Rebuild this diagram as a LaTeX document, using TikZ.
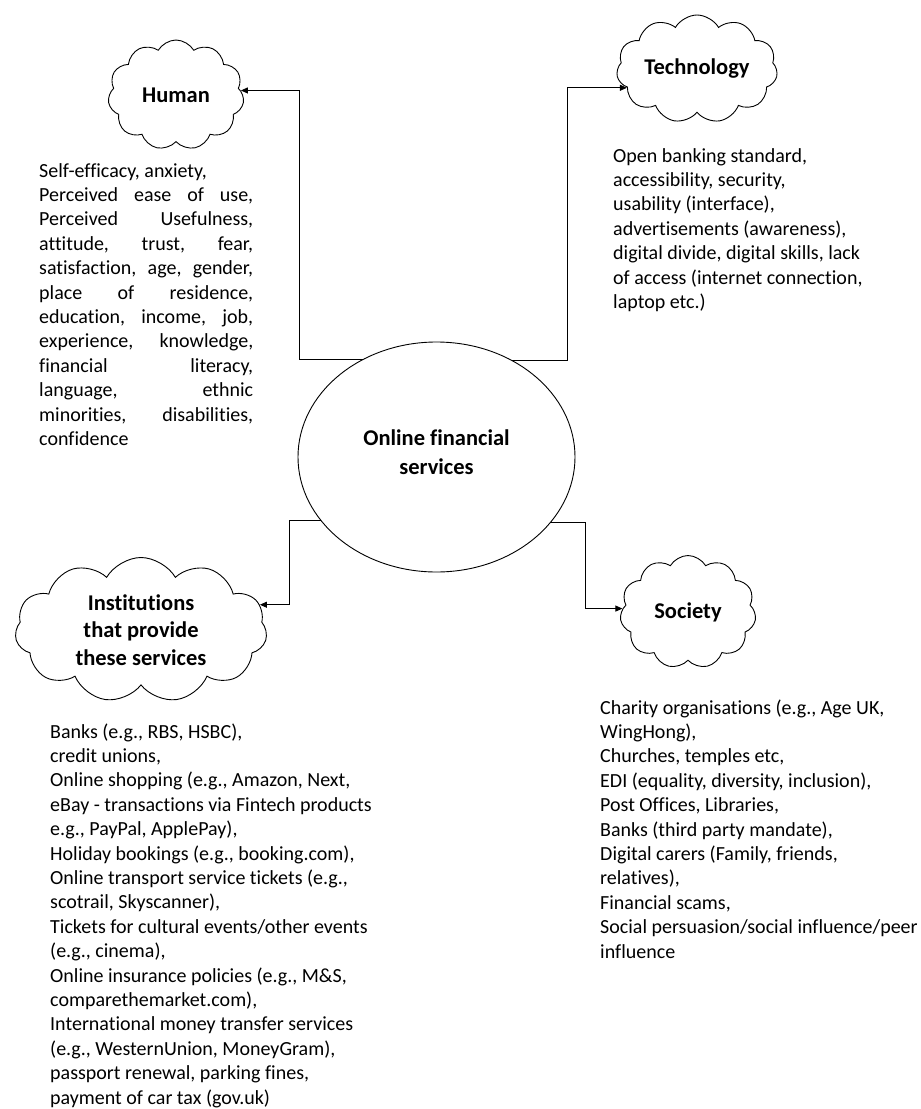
\documentclass[tikz,border=0pt]{standalone}
\usepackage{fontspec}
\setmainfont{Carlito}[Ligatures=NoCommon]
\usetikzlibrary{shapes.geometric,shapes.symbols,arrows.meta}
\newcommand\hjust[1]{\hbox to\hsize{#1}}
\newcommand\hplain[1]{\hbox{#1}}
\begin{document}
\begin{tikzpicture}[x=1pt,y=-1pt,
  cloudbox/.style={cloud, draw, line width=0.9pt, cloud puffs=11, cloud puff arc=120,
    cloud ignores aspect, inner sep=0pt, align=center,
    font=\fontsize{22.5}{27.5}\selectfont\bfseries},
  arr/.style={line width=0.9pt, -{Triangle[length=7pt,width=6pt]}},
  body/.style={anchor=base west, inner sep=0pt, font=\fontsize{20}{24.4}\selectfont}
]
\useasboundingbox (0,0) rectangle (921,1109);
\fill[white] (0,0) rectangle (921,1109);

% central ellipse
\node[ellipse, draw, line width=0.9pt, minimum width=277pt, minimum height=230pt,
      inner sep=0pt, outer sep=0pt] (ofs) at (436.5,457) {};
\node[align=center, inner sep=0pt, font=\fontsize{22.5}{29}\selectfont\bfseries]
      (ofstext) at (436.5,452) {Online financial\\services};

% clouds
\node[cloudbox, minimum width=136pt, minimum height=110pt] (human) at (176,95) {Human};
\node[cloudbox, minimum width=161pt, minimum height=108pt] (tech) at (697,69) {Technology};
\node[cloudbox, minimum width=252pt, minimum height=145pt] (inst) at (141,630)
      {Institutions\\that provide\\these services};
\node[cloudbox, minimum width=136pt, minimum height=113pt] (soc) at (688,612) {Society};

% corner coordinates of connectors
\coordinate (hx) at (299,0);
\coordinate (tx) at (567,0);
\coordinate (ix) at (289,0);
\coordinate (sx) at (585,0);

\draw[arr] (ofs.127.5) -- (ofs.127.5 -| hx) |- (human.4);
\draw[arr] (ofs.52.5) -- (ofs.52.5 -| tx) |- (tech.195);
\draw[arr] (ofs.209.6) -- (ofs.209.6 -| ix) |- (inst.12);
\draw[arr] (ofs.330.4) -- (ofs.330.4 -| sx) |- (soc.177);

% text blocks
\node[body] (humtxt) at (39,177) {\vtop{\hsize=214pt
  \hplain{Self-efficacy, anxiety,}
  \hjust{Perceived ease of use,}
  \hjust{Perceived Usefulness,}
  \hjust{attitude, trust, fear,}
  \hjust{satisfaction, age, gender,}
  \hjust{place of residence,}
  \hjust{education, income, job,}
  \hjust{experience, knowledge,}
  \hjust{financial literacy,}
  \hjust{language, ethnic}
  \hjust{minorities, disabilities,}
  \hplain{confidence}}};

\node[body] (techtxt) at (613,162) {\vtop{\hsize=300pt
  \hplain{Open banking standard,}
  \hplain{accessibility, security,}
  \hplain{usability (interface),}
  \hplain{advertisements (awareness),}
  \hplain{digital divide, digital skills, lack}
  \hplain{of access (internet connection,}
  \hplain{laptop etc.)}}};

\node[body] (insttxt) at (50,738) {\vtop{\hsize=400pt
  \hplain{Banks (e.g., RBS, HSBC),}
  \hplain{credit unions,}
  \hplain{Online shopping (e.g., Amazon, Next,}
  \hplain{eBay - transactions via Fintech products}
  \hplain{e.g., PayPal, ApplePay),}
  \hplain{Holiday bookings (e.g., booking.com),}
  \hplain{Online transport service tickets (e.g.,}
  \hplain{scotrail, Skyscanner),}
  \hplain{Tickets for cultural events/other events}
  \hplain{(e.g., cinema),}
  \hplain{Online insurance policies (e.g., M\&S,}
  \hplain{comparethemarket.com),}
  \hplain{International money transfer services}
  \hplain{(e.g., WesternUnion, MoneyGram),}
  \hplain{passport renewal, parking fines,}
  \hplain{payment of car tax (gov.uk)}}};

\node[body] (soctxt) at (600,714) {\vtop{\hsize=320pt
  \hplain{Charity organisations (e.g., Age UK,}
  \hplain{WingHong),}
  \hplain{Churches, temples etc,}
  \hplain{EDI (equality, diversity, inclusion),}
  \hplain{Post Offices, Libraries,}
  \hplain{Banks (third party mandate),}
  \hplain{Digital carers (Family, friends,}
  \hplain{relatives),}
  \hplain{Financial scams,}
  \hplain{Social persuasion/social influence/peer}
  \hplain{influence}}};
\end{tikzpicture}
\end{document}
